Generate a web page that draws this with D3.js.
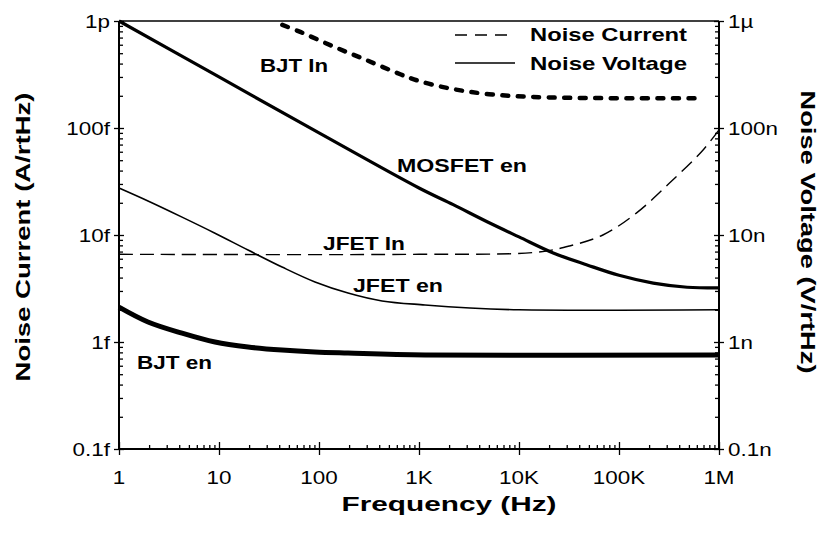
<!DOCTYPE html>
<html>
<head>
<meta charset="utf-8">
<script src="https://cdn.jsdelivr.net/npm/d3@7"></script>
<style>
  html, body { margin: 0; padding: 0; background: #fff; }
  svg { display: block; }
  text { fill: #000; }
</style>
</head>
<body>
<svg id="chart" width="823" height="542"></svg>
<script>
// ---- data (frequency in Hz; current in A/rtHz, voltage in V/rtHz) ----
const xTickValues = [1, 10, 100, 1e3, 1e4, 1e5, 1e6];
const xTickLabels = ["1", "10", "100", "1K", "10K", "100K", "1M"];
const leftTickValues = [1e-16, 1e-15, 1e-14, 1e-13, 1e-12];
const leftTickLabels = ["0.1f", "1f", "10f", "100f", "1p"];
const rightTickValues = [1e-10, 1e-9, 1e-8, 1e-7, 1e-6];
const rightTickLabels = ["0.1n", "1n", "10n", "100n", "1µ"];

// BJT In (noise current, fA/rtHz)
const bjtInFreq = [43, 65, 138, 300, 650, 1000, 2000, 5000, 20000, 700000];
const bjtInFA   = [920, 790, 580, 430, 318, 275, 235, 207, 193, 190];
// JFET In (noise current, fA/rtHz)
const jfetInFreq = [1, 1000, 15000, 32000, 69000, 150000, 320000, 690000, 1000000];
const jfetInFA   = [6.6, 6.6, 6.9, 7.9, 10, 16.1, 30.6, 62, 96];
// MOSFET en (noise voltage, nV/rtHz)
const mosEnFreq = [1, 10, 100, 1000, 2200, 4800, 10000, 22000, 48000, 100000, 220000, 480000, 1000000];
const mosEnNV   = [1000, 300, 90, 27.5, 19.2, 13.3, 9.6, 6.8, 5.25, 4.2, 3.55, 3.25, 3.2];
// JFET en (noise voltage, nV/rtHz)
const jfetEnFreq = [1, 1.95, 4.27, 9.12, 19.5, 42.7, 91.2, 195, 427, 1148, 3236, 10000, 1000000];
const jfetEnNV   = [27.5, 20.8, 14.7, 10.4, 7.24, 5.02, 3.64, 2.87, 2.42, 2.22, 2.08, 2.0, 2.0];
// BJT en (noise voltage, nV/rtHz)
const bjtEnFreq = [1, 1.95, 4.27, 9.12, 19.5, 42.7, 91.2, 195, 1148, 1000000];
const bjtEnNV   = [2.12, 1.54, 1.21, 1.0, 0.898, 0.841, 0.807, 0.789, 0.757, 0.757];

// ---- layout ----
const svg = d3.select("#chart");
const L = 119, R = 719, T = 21, B = 449;
const x = d3.scaleLog().domain([1, 1e6]).range([L, R]);
const yL = d3.scaleLog().domain([1e-16, 1e-12]).range([B, T]);
const yR = d3.scaleLog().domain([1e-10, 1e-6]).range([B, T]);

svg.append("rect").attr("width", 823).attr("height", 542).attr("fill", "#fff");

function minorsOf(majors) {
  const out = [];
  for (let i = 0; i < majors.length - 1; i++)
    for (let k = 2; k <= 9; k++) out.push(majors[i] * k);
  return out;
}

const axisStyle = g => {
  g.selectAll(".domain").remove();
  g.selectAll("line").attr("stroke", "#000").attr("stroke-width", 1.3);
  g.selectAll("text").remove();
};

// frame lines
const frame = svg.append("g").attr("stroke", "#000").attr("stroke-width", 2).attr("fill", "none");
frame.append("line").attr("x1", L).attr("x2", R).attr("y1", B).attr("y2", B);
frame.append("line").attr("x1", L).attr("x2", R).attr("y1", T).attr("y2", T).attr("stroke-width", 1.6);
frame.append("line").attr("x1", L).attr("x2", L).attr("y1", T).attr("y2", B);
frame.append("line").attr("x1", R).attr("x2", R).attr("y1", T).attr("y2", B);

// bottom axis ticks
svg.append("g").attr("transform", `translate(0,${B})`)
  .call(d3.axisBottom(x).tickValues(minorsOf(xTickValues)).tickSize(-4)).call(axisStyle);
svg.append("g").attr("transform", `translate(0,${B})`)
  .call(d3.axisBottom(x).tickValues(xTickValues).tickSize(6)).call(axisStyle);
svg.append("g").attr("transform", `translate(0,${B})`)
  .call(d3.axisBottom(x).tickValues(xTickValues).tickSize(-7)).call(axisStyle);

// left axis ticks
svg.append("g").attr("transform", `translate(${L},0)`)
  .call(d3.axisLeft(yL).tickValues(minorsOf(leftTickValues)).tickSize(-4)).call(axisStyle);
svg.append("g").attr("transform", `translate(${L},0)`)
  .call(d3.axisLeft(yL).tickValues(leftTickValues).tickSize(5)).call(axisStyle);
svg.append("g").attr("transform", `translate(${L},0)`)
  .call(d3.axisLeft(yL).tickValues(leftTickValues).tickSize(-5)).call(axisStyle);

// right axis ticks
svg.append("g").attr("transform", `translate(${R},0)`)
  .call(d3.axisRight(yR).tickValues(minorsOf(rightTickValues)).tickSize(-4)).call(axisStyle);
svg.append("g").attr("transform", `translate(${R},0)`)
  .call(d3.axisRight(yR).tickValues(rightTickValues).tickSize(5)).call(axisStyle);
svg.append("g").attr("transform", `translate(${R},0)`)
  .call(d3.axisRight(yR).tickValues(rightTickValues).tickSize(-5)).call(axisStyle);

// widen text horizontally (reference type is set wide)
function widen(sel, k) {
  sel.each(function () {
    const w = this.getComputedTextLength();
    d3.select(this).attr("textLength", w * k).attr("lengthAdjust", "spacingAndGlyphs");
  });
}

// tick labels
const font = "'Liberation Sans', Arial, Helvetica, sans-serif";
svg.append("g").selectAll("text").data(xTickValues).join("text")
  .attr("x", d => x(d)).attr("y", 484)
  .attr("text-anchor", "middle").attr("font-family", font).attr("font-size", 19)
  .text((d, i) => xTickLabels[i]).call(widen, 1.18);
svg.append("g").selectAll("text").data(leftTickValues).join("text")
  .attr("x", 110).attr("y", d => yL(d) + 7)
  .attr("text-anchor", "end").attr("font-family", font).attr("font-size", 19)
  .text((d, i) => leftTickLabels[i]).call(widen, 1.18);
svg.append("g").selectAll("text").data(rightTickValues).join("text")
  .attr("x", 728).attr("y", d => yR(d) + 7)
  .attr("text-anchor", "start").attr("font-family", font).attr("font-size", 19)
  .text((d, i) => rightTickLabels[i]).call(widen, 1.18);

// axis titles
svg.append("text").attr("x", 449).attr("y", 511).attr("text-anchor", "middle")
  .attr("font-family", font).attr("font-weight", "bold").attr("font-size", 21)
  .attr("textLength", 215).attr("lengthAdjust", "spacingAndGlyphs")
  .text("Frequency (Hz)");
svg.append("text").attr("transform", "translate(30,237) rotate(-90)").attr("text-anchor", "middle")
  .attr("font-family", font).attr("font-weight", "bold").attr("font-size", 20)
  .attr("textLength", 289).attr("lengthAdjust", "spacingAndGlyphs")
  .text("Noise Current (A/rtHz)");
svg.append("text").attr("transform", "translate(801,232) rotate(90)").attr("text-anchor", "middle")
  .attr("font-family", font).attr("font-weight", "bold").attr("font-size", 20)
  .attr("textLength", 283).attr("lengthAdjust", "spacingAndGlyphs")
  .text("Noise Voltage (V/rtHz)");

// series lines
const line = (ys) => d3.line().x(d => x(d[0])).y(d => ys(d[1])).curve(d3.curveCatmullRom.alpha(0.5));
const zip = (a, b, k) => a.map((f, i) => [f, b[i] * k]);

const plot = svg.append("g").attr("fill", "none").attr("stroke", "#000");
plot.append("path").datum(zip(jfetInFreq, jfetInFA, 1e-15)).attr("d", line(yL))
  .attr("stroke-width", 1.4).attr("stroke-dasharray", "14,7");
plot.append("path").datum(zip(bjtInFreq, bjtInFA, 1e-15)).attr("d", line(yL))
  .attr("stroke-width", 4.5).attr("stroke-linecap", "round").attr("stroke-dasharray", "6,9.5");
plot.append("path").datum(zip(mosEnFreq, mosEnNV, 1e-9)).attr("d", line(yR))
  .attr("stroke-width", 3.2);
plot.append("path").datum(zip(jfetEnFreq, jfetEnNV, 1e-9)).attr("d", line(yR))
  .attr("stroke-width", 1.6);
plot.append("path").datum(zip(bjtEnFreq, bjtEnNV, 1e-9)).attr("d", line(yR))
  .attr("stroke-width", 5);

// curve labels
const labels = [
  { t: "BJT In", x: 260, y: 72, w: 68 },
  { t: "MOSFET en", x: 397, y: 172, w: 130 },
  { t: "JFET In", x: 323, y: 250, w: 82 },
  { t: "JFET en", x: 353, y: 292, w: 90 },
  { t: "BJT en", x: 137, y: 369, w: 75 }
];
svg.append("g").selectAll("text").data(labels).join("text")
  .attr("x", d => d.x).attr("y", d => d.y)
  .attr("font-family", font).attr("font-weight", "bold").attr("font-size", 19)
  .attr("textLength", d => d.w).attr("lengthAdjust", "spacingAndGlyphs")
  .text(d => d.t);

// legend
const leg = svg.append("g");
leg.append("line").attr("x1", 455).attr("x2", 515).attr("y1", 35).attr("y2", 35)
  .attr("stroke", "#000").attr("stroke-width", 1.3).attr("stroke-dasharray", "12,8");
leg.append("line").attr("x1", 455).attr("x2", 515).attr("y1", 63).attr("y2", 63)
  .attr("stroke", "#000").attr("stroke-width", 1.6);
leg.append("text").attr("x", 530).attr("y", 41)
  .attr("font-family", font).attr("font-weight", "bold").attr("font-size", 19)
  .attr("textLength", 157).attr("lengthAdjust", "spacingAndGlyphs").text("Noise Current");
leg.append("text").attr("x", 530).attr("y", 70)
  .attr("font-family", font).attr("font-weight", "bold").attr("font-size", 19)
  .attr("textLength", 157).attr("lengthAdjust", "spacingAndGlyphs").text("Noise Voltage");
</script>
</body>
</html>
